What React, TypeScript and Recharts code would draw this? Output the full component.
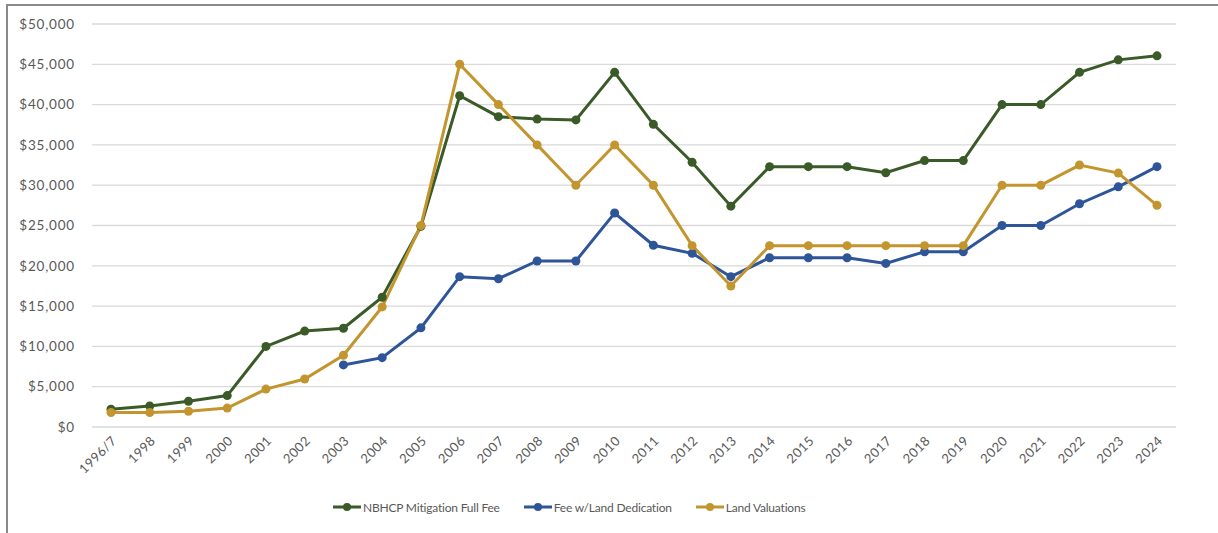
import { CartesianGrid, Legend, Line, LineChart, XAxis, YAxis } from 'recharts';

const years = [
  '1996/7', '1998', '1999', '2000', '2001', '2002', '2003', '2004', '2005', '2006',
  '2007', '2008', '2009', '2010', '2011', '2012', '2013', '2014', '2015', '2016',
  '2017', '2018', '2019', '2020', '2021', '2022', '2023', '2024',
];

const fullFee = [
  2200, 2600, 3200, 3900, 10000, 11900, 12250, 16100, 24900, 41100,
  38500, 38200, 38100, 44000, 37550, 32850, 27400, 32300, 32300, 32300,
  31550, 33050, 33050, 40000, 40000, 44000, 45550, 46050,
];

const landDedication = [
  null, null, null, null, null, null, 7700, 8600, 12300, 18650,
  18400, 20600, 20600, 26550, 22550, 21550, 18650, 21000, 21000, 21000,
  20300, 21750, 21750, 25000, 25000, 27700, 29800, 32300,
];

const landValuations = [
  1800, 1800, 1950, 2350, 4700, 5950, 8900, 14900, 25000, 45000,
  40000, 35000, 30000, 35000, 30000, 22500, 17500, 22500, 22500, 22500,
  22500, 22500, 22500, 30000, 30000, 32500, 31500, 27500,
];

const yTicks = [0, 5000, 10000, 15000, 20000, 25000, 30000, 35000, 40000, 45000, 50000];

const seriesOrder = ['fullFee', 'landDedication', 'landValuations'];

const green = '#3a5a28';
const blue = '#2e5597';
const gold = '#c3952e';
const textColor = '#595959';
const font = 'Lato, "Open Sans", sans-serif';

const data = years.map((year, i) => ({
  year,
  fullFee: fullFee[i],
  landDedication: landDedication[i],
  landValuations: landValuations[i],
}));

function LegendContent({ payload }: any) {
  const items = [...(payload || [])].sort(
    (a: any, b: any) => seriesOrder.indexOf(a.dataKey) - seriesOrder.indexOf(b.dataKey),
  );
  return (
    <div
      style={{
        height: 20,
        display: 'flex',
        alignItems: 'center',
        paddingLeft: 333,
        fontFamily: font,
        fontSize: 12,
        color: textColor,
        letterSpacing: -0.2,
      }}
    >
      {items.map((p: any) => (
        <div key={p.dataKey} style={{ display: 'flex', alignItems: 'center', marginRight: 24 }}>
          <svg width={28} height={10} style={{ marginRight: 2 }}>
            <line x1={0} y1={5} x2={28} y2={5} stroke={p.color} strokeWidth={3} />
            <circle cx={14} cy={5} r={4} fill={p.color} />
          </svg>
          <span>{p.value}</span>
        </div>
      ))}
    </div>
  );
}

export default function App() {
  return (
    <div style={{ position: 'fixed', left: 0, top: 0, width: 1218, height: 533, background: '#fff' }}>
      <div
        style={{
          position: 'absolute',
          left: 6,
          top: 4,
          width: 1300,
          height: 600,
          borderLeft: '2px solid #8a8a8a',
          borderTop: '2px solid #8a8a8a',
        }}
      />
      <div style={{ position: 'absolute', left: 0, top: 0 }}>
        <LineChart
          width={1218}
          height={533}
          data={data}
          margin={{ top: 24, right: 42, bottom: 16, left: 0 }}
        >
          <CartesianGrid vertical={false} stroke="#d9d9d9" strokeWidth={1.3} />
          <XAxis
            dataKey="year"
            axisLine={false}
            tickLine={false}
            interval={0}
            angle={-45}
            textAnchor="end"
            height={70}
            padding={{ left: 19, right: 19 }}
            tick={{ fontSize: 13, fill: textColor, fontFamily: font, letterSpacing: 0.5 }}
          />
          <YAxis
            domain={[0, 50000]}
            ticks={yTicks}
            width={92}
            axisLine={false}
            tickLine={false}
            tickMargin={11}
            tick={{ fontSize: 13.5, fill: textColor, fontFamily: font, letterSpacing: 0.8 }}
            tickFormatter={(v: number) => `$${v.toLocaleString('en-US')}`}
          />
          <Legend verticalAlign="bottom" content={<LegendContent />} />
          <Line
            dataKey="fullFee"
            name="NBHCP Mitigation Full Fee"
            stroke={green}
            strokeWidth={3}
            dot={{ r: 4.5, fill: green, stroke: green, strokeWidth: 0 }}
            activeDot={false}
            isAnimationActive={false}
          />
          <Line
            dataKey="landDedication"
            name="Fee w/Land Dedication"
            stroke={blue}
            strokeWidth={3}
            dot={{ r: 4.5, fill: blue, stroke: blue, strokeWidth: 0 }}
            activeDot={false}
            isAnimationActive={false}
          />
          <Line
            dataKey="landValuations"
            name="Land Valuations"
            stroke={gold}
            strokeWidth={3}
            dot={{ r: 4.5, fill: gold, stroke: gold, strokeWidth: 0 }}
            activeDot={false}
            isAnimationActive={false}
          />
        </LineChart>
      </div>
    </div>
  );
}
